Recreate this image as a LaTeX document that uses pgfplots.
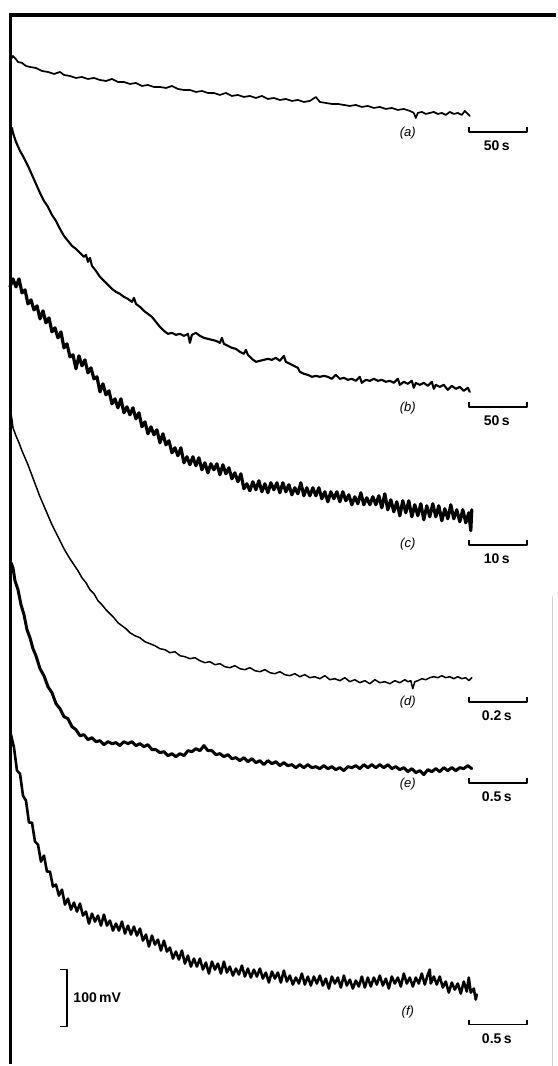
\documentclass[border=0pt]{standalone}
\usepackage{pgfplots}
\pgfplotsset{compat=1.18}
\usepackage{fontspec}
\setmainfont{Liberation Sans}

% scale bar under each trace: y of bar, label
\newcommand{\timebar}[2]{%
  \addplot[black, line width=1.8pt, line cap=butt] coordinates {(469,#1-5) (469,#1) (527,#1) (527,#1-5)};
  \node[font=\fontsize{14}{16}\selectfont\bfseries] at (axis cs:497,#1+14) {#2};
}

\begin{document}
\begin{tikzpicture}
\begin{axis}[
  width=556pt, height=1066pt, scale only axis,
  xmin=0, xmax=556, ymin=0, ymax=1066, y dir=reverse,
  hide axis, clip=false,
  every axis plot/.append style={line join=round, line cap=round},
]
\path (axis cs:0,0) rectangle (axis cs:556,1066);

% frame
\addplot[black, line width=4pt, line cap=butt] coordinates {(10,15) (556,15)};
\addplot[black, line width=3pt, line cap=butt] coordinates {(11,13) (11,1064)};
\addplot[gray!35, line width=1pt] coordinates {(553,597) (553,1066)};

% (a)
\addplot[black, line width=1.7pt] coordinates {
(12,58)(13,56)(15,58)(18,62)(22,63)(26,66)(30,67)(36,68)(42,71)(48,72)(54,74)(60,72)
(64,75)(70,76)(76,78)(82,77)(88,79)(94,78)(100,80)(106,81)(112,79)(118,82)(124,82)
(130,84)(136,83)(142,86)(148,85)(154,87)(160,87)(166,88)(172,86)(178,89)(184,90)
(190,90)(196,92)(202,91)(208,93)(214,93)(220,95)(226,93)(232,96)(238,95)(244,97)
(250,96)(256,98)(262,96)(268,99)(274,98)(280,100)(286,99)(292,101)(298,100)(304,102)
(310,101)(316,97)(320,102)(326,103)(332,104)(338,104)(344,105)(350,106)(356,105)
(362,107)(368,106)(374,108)(380,107)(386,109)(392,108)(398,110)(404,109)(410,111)
(414,113)(416,118)(418,113)(422,112)(426,114)(430,113)(434,112)(438,114)(442,113)
(446,115)(450,112)(454,114)(458,113)(462,115)(465,111)(468,114)(470,116)
};

% (b)
\addplot[black, line width=2.1pt] coordinates {
(12,128)(13,133)(16,142)(20,151)(24,158)(28,166)(32,175)(36,184)(40,193)(44,201)
(48,207)(52,215)(56,221)(60,229)(64,236)(68,241)(72,246)(76,249)(80,253)(84,257)
(86,255)(88,262)(90,258)(92,266)(96,271)(100,277)(104,281)(108,285)(112,289)(116,292)
(120,294)(124,297)(128,299)(132,302)(134,298)(136,304)(140,307)(144,311)(148,314)
(152,317)(156,322)(160,327)(164,331)(168,334)(172,333)(176,335)(180,334)(184,336)
(188,334)(190,343)(192,335)(196,333)(200,336)(204,338)(208,339)(212,340)(216,341)
(220,343)(222,338)(224,344)(228,346)(232,348)(236,349)(240,352)(244,354)(246,350)
(248,355)(252,359)(256,362)(260,361)(264,360)(268,359)(272,360)(276,358)(280,361)
(284,356)(286,362)(290,364)(294,366)(298,368)(300,372)(304,374)(308,375)(312,377)
(316,376)(320,377)(324,376)(328,377)(332,379)(336,375)(340,379)(344,378)(348,380)
(352,379)(356,381)(360,377)(362,383)(366,380)(370,381)(374,379)(378,381)(382,380)
(386,382)(390,381)(394,383)(398,379)(400,385)(404,382)(408,384)(412,381)(414,388)
(416,383)(420,385)(424,383)(428,386)(432,382)(434,389)(436,385)(440,387)(444,385)
(448,390)(452,386)(456,389)(460,387)(464,391)(468,388)(470,392)
};

% (c)
\addplot[black, line width=3.2pt] coordinates {
(10,287)(13,279)(16,287)(19,279)(22,293)(25,290)(28,304)(31,300)(34,310)(37,306)
(40,319)(43,311)(46,323)(49,318)(52,332)(55,328)(58,338)(61,332)(64,348)(67,344)
(70,357)(73,355)(76,369)(79,356)(82,366)(85,360)(88,373)(91,368)(94,379)(97,377)
(100,392)(103,384)(106,395)(109,391)(112,404)(115,399)(118,408)(121,399)(124,413)
(127,407)(130,415)(133,408)(136,419)(139,413)(142,427)(145,422)(148,434)(151,427)
(154,435)(157,430)(160,443)(163,434)(166,445)(169,441)(172,453)(175,448)(178,456)
(181,448)(184,463)(187,457)(190,465)(193,457)(196,466)(199,458)(202,470)(205,463)
(208,473)(211,464)(214,470)(217,464)(220,475)(223,465)(226,474)(229,468)(232,479)
(235,473)(238,482)(241,474)(244,489)(247,484)(250,491)(253,482)(256,490)(259,481)
(262,492)(265,484)(268,493)(271,483)(274,490)(277,483)(280,493)(283,483)(286,492)
(289,485)(292,495)(295,488)(298,494)(301,483)(304,496)(307,488)(310,496)(313,488)
(316,496)(319,488)(322,499)(325,492)(328,502)(331,492)(334,499)(337,492)(340,502)
(343,492)(346,501)(349,495)(352,505)(355,497)(358,504)(361,493)(364,505)(367,498)
(370,505)(373,497)(376,505)(379,496)(382,508)(385,494)(388,510)(391,500)(394,512)
(397,502)(400,516)(403,501)(406,513)(409,501)(412,517)(415,505)(418,516)(421,504)
(424,520)(427,506)(430,517)(433,504)(436,517)(439,506)(442,521)(445,509)(448,519)
(451,505)(454,519)(457,510)(460,522)(463,510)(466,523)(469,513)(471,531)(472,510)
};

% (d)
\addplot[black, line width=1.5pt] coordinates {
(11,413)(12,420)(13,428)(16,436)(19,443)(22,451)(25,458)(28,465)(31,473)(34,481)
(37,489)(40,497)(43,504)(46,511)(49,518)(52,525)(55,531)(58,537)(61,543)(64,549)
(67,554)(70,559)(74,565)(78,571)(82,578)(86,583)(90,590)(94,594)(98,601)(102,605)
(106,610)(110,614)(114,618)(118,623)(122,626)(126,629)(130,633)(135,636)(140,638)
(145,642)(150,644)(155,646)(160,649)(165,650)(170,653)(175,652)(180,656)(185,657)
(190,659)(195,658)(200,661)(205,663)(210,662)(215,665)(220,664)(225,667)(230,668)
(235,666)(240,669)(245,670)(250,668)(255,671)(260,672)(265,670)(270,673)(275,674)
(280,672)(285,675)(290,676)(295,674)(300,677)(305,675)(310,678)(315,677)(320,679)
(325,676)(330,680)(335,679)(340,681)(345,678)(350,682)(355,680)(360,683)(365,681)
(370,684)(375,680)(380,683)(385,682)(390,684)(395,681)(400,683)(405,680)(408,682)
(411,681)(413,689)(415,682)(418,681)(422,679)(426,680)(430,678)(434,677)(438,678)
(442,676)(446,678)(450,677)(454,679)(458,677)(462,679)(466,678)(469,681)(472,678)
};

% (e)
\addplot[black, line width=3pt] coordinates {
(11,563)(13,568)(15,581)(18,590)(21,605)(24,615)(27,630)(30,638)(33,649)(36,656)
(40,669)(44,676)(48,687)(52,693)(56,704)(60,709)(64,717)(68,719)(72,727)(76,730)
(80,736)(84,735)(88,740)(92,738)(96,742)(100,741)(104,745)(108,742)(112,744)(116,743)
(120,746)(124,742)(128,744)(132,742)(136,746)(140,744)(144,747)(148,745)(152,750)
(156,750)(160,753)(164,752)(168,756)(172,754)(176,757)(180,754)(184,756)(188,751)
(192,752)(196,749)(200,751)(204,746)(208,751)(212,751)(216,755)(220,754)(224,757)
(228,755)(232,759)(236,758)(240,761)(244,758)(248,762)(252,759)(256,763)(260,761)
(264,765)(268,761)(272,764)(276,762)(280,766)(284,763)(288,766)(292,765)(296,768)
(300,765)(304,768)(308,765)(312,768)(316,767)(320,769)(324,766)(328,769)(332,767)
(336,770)(340,768)(344,771)(348,767)(352,768)(356,766)(360,769)(364,765)(368,768)
(372,765)(376,768)(380,765)(384,768)(388,765)(392,769)(396,767)(400,770)(404,768)
(408,772)(412,769)(416,773)(420,771)(424,775)(428,770)(432,772)(436,769)(440,772)
(444,768)(448,771)(452,768)(456,771)(460,768)(464,769)(468,766)(472,769)
};

% (f)
\addplot[black, line width=2.6pt] coordinates {
(11,735)(14,748)(17,771)(20,774)(23,796)(26,801)(29,823)(32,823)(35,842)(38,845)
(41,862)(44,856)(47,872)(50,872)(53,887)(56,885)(59,896)(62,890)(65,905)(68,899)
(71,910)(74,903)(77,912)(80,904)(83,916)(86,912)(89,924)(92,914)(95,922)(98,916)
(101,926)(104,915)(107,926)(110,921)(113,931)(116,924)(119,931)(122,922)(125,934)
(128,926)(131,935)(134,927)(137,936)(140,929)(143,941)(146,935)(149,947)(152,936)
(155,945)(158,940)(161,951)(164,941)(167,952)(170,948)(173,959)(176,952)(179,960)
(182,951)(185,964)(188,956)(191,967)(194,959)(197,967)(200,959)(203,970)(206,963)
(209,974)(212,962)(215,970)(218,964)(221,974)(224,962)(227,973)(230,967)(233,976)
(236,969)(239,975)(242,966)(245,977)(248,969)(251,978)(254,970)(257,977)(260,969)
(263,979)(266,973)(269,983)(272,972)(275,979)(278,973)(281,983)(284,971)(287,982)
(290,976)(293,985)(296,978)(299,984)(302,974)(305,985)(308,977)(311,986)(314,977)
(317,984)(320,976)(323,986)(326,979)(329,989)(332,977)(335,984)(338,978)(341,988)
(344,976)(347,986)(350,980)(353,989)(356,981)(359,987)(362,977)(365,988)(368,978)
(371,987)(374,978)(377,985)(380,976)(383,986)(386,979)(389,989)(392,977)(395,984)
(398,978)(401,987)(404,974)(407,984)(410,978)(413,987)(416,978)(419,984)(422,974)
(425,985)(428,975)(430,970)(431,984)(434,977)(437,985)(440,977)(443,988)(446,982)
(449,993)(452,983)(455,990)(458,984)(461,994)(464,982)(467,992)(469,978)(471,993)
(474,989)(476,1000)(477,995)
};

% labels and scale bars
\node[font=\fontsize{13}{15}\selectfont\itshape] at (axis cs:408,133) {(a)};
\node[font=\fontsize{13}{15}\selectfont\itshape] at (axis cs:408,408) {(b)};
\node[font=\fontsize{13}{15}\selectfont\itshape] at (axis cs:408,544) {(c)};
\node[font=\fontsize{13}{15}\selectfont\itshape] at (axis cs:408,702) {(d)};
\node[font=\fontsize{13}{15}\selectfont\itshape] at (axis cs:408,784) {(e)};
\node[font=\fontsize{13}{15}\selectfont\itshape] at (axis cs:408,1013) {(f)};
\timebar{132}{50\,s}
\timebar{407}{50\,s}
\timebar{545}{10\,s}
\timebar{702}{0.2\,s}
\timebar{783}{0.5\,s}
\timebar{1025}{0.5\,s}

% 100 mV bar
\addplot[black, line width=1.5pt, line cap=butt] coordinates {(60,970) (67,970) (67,1027) (60,1027)};
\node[font=\fontsize{14}{16}\selectfont\bfseries, anchor=west] at (axis cs:70,998) {100\,mV};
\end{axis}
\end{tikzpicture}
\end{document}
